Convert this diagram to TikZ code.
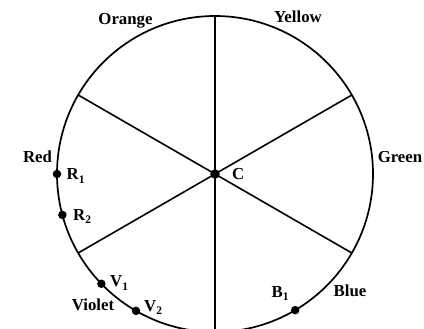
\documentclass[tikz,border=0pt]{standalone}
\usepackage{fontspec}
\setmainfont{Liberation Serif}
\usetikzlibrary{calc}
\newcommand{\lowsub}[1]{\raisebox{-0.4ex}{\fontsize{11.5}{12}\selectfont #1}}
\begin{document}
\begin{tikzpicture}[x=1pt,y=-1pt,
  wheel/.style={line width=1.7pt},
  spoke/.style={line width=1.6pt},
  dotpt/.style={circle,fill=black,inner sep=0pt,minimum size=8.5pt},
  lab/.style={font=\fontsize{16.8}{18}\selectfont\bfseries,inner sep=0pt},
  sublab/.style={lab,anchor=base west}]
\useasboundingbox (0,0) rectangle (424,329);
\clip (0,0) rectangle (424,329);
\fill[white] (0,0) rectangle (424,329);
\coordinate (C) at (215,174);
\draw[wheel] (C) circle[radius=158];
\foreach \a/\n in {30/s1,90/s2,150/s3,210/s4,270/s5,330/s6}
  \coordinate (\n) at ($(C)+(-\a:158)$);
\foreach \n in {s1,s2,s3,s4,s5,s6}
  \draw[spoke] (C) -- (\n);
\node[dotpt,minimum size=9.5pt] (cdot) at (C) {};
\node[dotpt] (R1) at ($(C)+(180:158)$) {};
\node[dotpt] (R2) at ($(C)+(-195:158)$) {};
\node[dotpt] (V1) at ($(C)+(-224:158)$) {};
\node[dotpt] (V2) at ($(C)+(-240:158)$) {};
\node[dotpt] (B1) at ($(C)+(-300.5:158)$) {};
\node[lab,anchor=base] (orange) at (125.5,25) {Orange};
\node[lab,anchor=base] (yellow) at (298,22.5) {Yellow};
\node[lab,anchor=base] (green) at (400,162.5) {Green};
\node[lab,anchor=base] (red) at (37.5,162.5) {Red};
\node[lab,anchor=base] (violet) at (93,310) {Violet};
\node[lab,anchor=base] (blue) at (350,296.5) {Blue};
\node[sublab] (cl) at (232,179.5) {C};
\node[sublab] (r1l) at (66.5,180) {R\lowsub{1}};
\node[sublab] (r2l) at (73,220.5) {R\lowsub{2}};
\node[sublab] (v1l) at (110,287) {V\lowsub{1}};
\node[sublab] (v2l) at (144,311.5) {V\lowsub{2}};
\node[sublab] (b1l) at (271.5,297.5) {B\lowsub{1}};
\end{tikzpicture}
\end{document}
